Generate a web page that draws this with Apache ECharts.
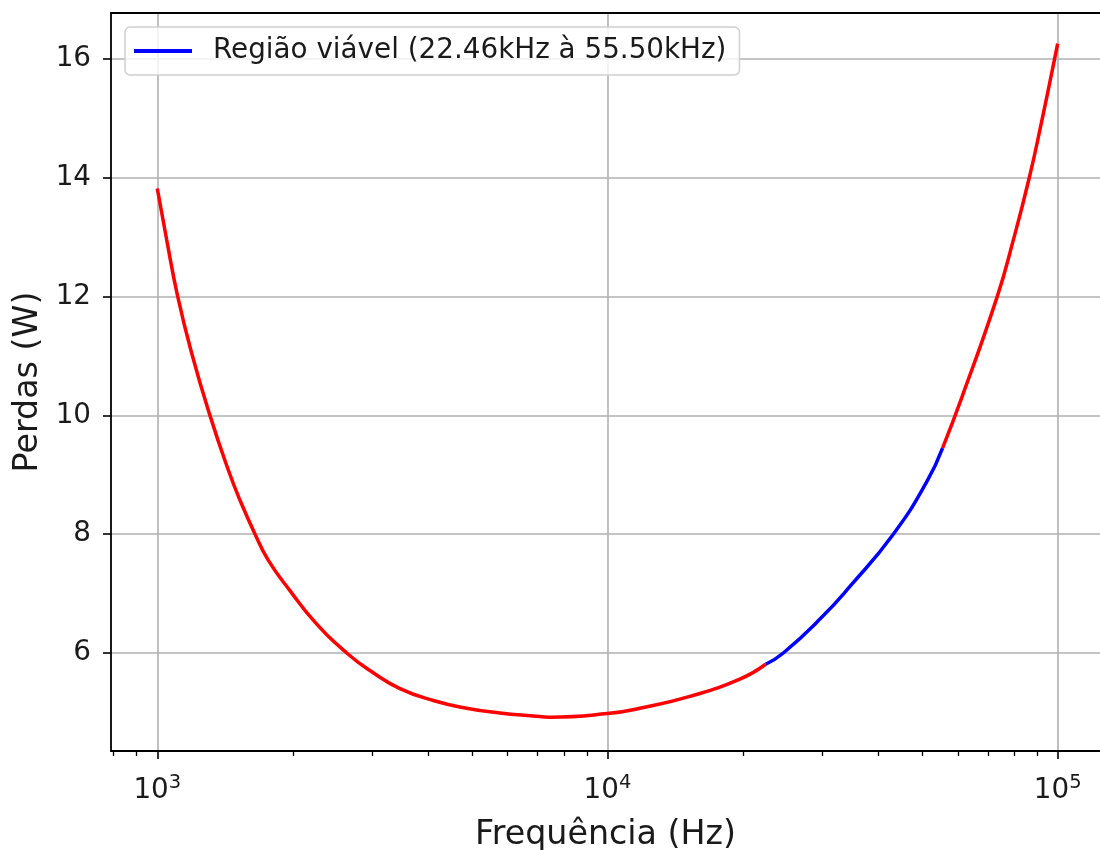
<!DOCTYPE html>
<html><head><meta charset="utf-8">
<script src="https://cdn.jsdelivr.net/npm/echarts@6/dist/echarts.min.js"></script>
<style>html,body{margin:0;padding:0;background:#fff;overflow:hidden}#c{width:1100px;height:850px}</style>
</head><body><div id="c"></div>
<script>
// ---- data ----
const freqHz = [1000, 1049, 1108, 1192, 1309, 1438, 1527, 1649, 1765, 1971, 2240, 2635, 3000, 3459, 4102, 4862, 5768, 6839, 7447, 10000, 11800, 15240, 19680, 22460, 24580, 29910, 34560, 43140, 51170, 55500, 61230, 73400, 79690, 86480, 92150, 98130, 100000];
const lossW  = [13.82, 12.96, 12.03, 11.05, 10.00, 9.08, 8.57, 8.00, 7.56, 7.05, 6.52, 6.00, 5.68, 5.40, 5.20, 5.07, 4.99, 4.94, 4.92, 4.98, 5.07, 5.27, 5.56, 5.81, 6.00, 6.60, 7.12, 8.00, 8.88, 9.45, 10.30, 12.00, 12.95, 14.00, 14.95, 15.95, 16.26];
const viableStartHz = 22460;
const viableEndHz = 55500;
const legendLabel = 'Região viável (22.46kHz à 55.50kHz)';
const xMajorTicks = [1000, 10000, 100000];
const xMinorTicks = [800, 900, 2000, 3000, 4000, 5000, 6000, 7000, 8000, 9000, 20000, 30000, 40000, 50000, 60000, 70000, 80000, 90000];
const yTicks = [6, 8, 10, 12, 14, 16];
const xLimits = [789.2, 124170];
const yLimits = [4.35, 16.774];
const xTitle = 'Frequência (Hz)';
const yTitle = 'Perdas (W)';

// ---- build series ----
const redData = freqHz.map((f, i) => (f > viableStartHz && f < viableEndHz) ? [f, '-'] : [f, lossW[i]]);
const blueData = [];
freqHz.forEach((f, i) => { if (f >= viableStartHz && f <= viableEndHz) blueData.push([f, lossW[i]]); });

const FONT = 'DejaVu Sans';
const TXT = '#1a1a1a';
const SPINE = { show: true, onZero: false, lineStyle: { color: '#000', width: 1.8 } };
const chart = echarts.init(document.getElementById('c'), null, {renderer: 'canvas'});
chart.setOption({
  animation: false,
  backgroundColor: '#fff',
  grid: { left: 111, top: 13, right: 0, bottom: 99, show: false, containLabel: false, outerBoundsMode: 'none' },
  legend: {
    left: 125, top: 27,
    data: [legendLabel],
    icon: 'rect', itemWidth: 58, itemHeight: 4,
    padding: [10, 13, 10, 9],
    backgroundColor: 'rgba(255,255,255,0.8)',
    borderColor: '#d0d0d0', borderWidth: 1.5, borderRadius: 5,
    textStyle: { fontFamily: FONT, fontSize: 27.8, color: TXT, padding: [0, 0, 0, 16] }
  },
  xAxis: [{
    type: 'log', logBase: 10, min: xLimits[0], max: xLimits[1], position: 'bottom',
    axisLine: SPINE,
    axisTick: { show: true, inside: false, length: 8, customValues: xMajorTicks, lineStyle: { color: '#000', width: 1.6 } },
    axisLabel: {
      customValues: xMajorTicks, margin: 22,
      formatter: v => '{b|10}{s|' + Math.round(Math.log10(v)) + '}',
      rich: {
        b: { fontFamily: FONT, fontSize: 27.8, color: TXT, lineHeight: 32, verticalAlign: 'bottom' },
        s: { fontFamily: FONT, fontSize: 19.5, color: TXT, lineHeight: 20, verticalAlign: 'top' }
      }
    },
    splitLine: { show: true, lineStyle: { color: '#b0b0b0', width: 1.6 } },
    name: xTitle, nameLocation: 'middle', nameGap: 68,
    nameTextStyle: { fontFamily: FONT, fontSize: 33.3, color: TXT }
  }, {
    type: 'log', logBase: 10, min: xLimits[0], max: xLimits[1], position: 'bottom',
    axisLine: { show: false },
    axisTick: { show: true, inside: false, length: 5, customValues: xMinorTicks, lineStyle: { color: '#000', width: 1.3 } },
    axisLabel: { show: false },
    splitLine: { show: false }
  }, {
    type: 'log', logBase: 10, min: xLimits[0], max: xLimits[1], position: 'top',
    axisLine: SPINE,
    axisTick: { show: false }, axisLabel: { show: false }, splitLine: { show: false }
  }],
  yAxis: {
    type: 'value', min: yLimits[0], max: yLimits[1], position: 'left',
    axisLine: SPINE,
    axisTick: { show: true, inside: false, length: 8, customValues: yTicks, lineStyle: { color: '#000', width: 1.6 } },
    axisLabel: { customValues: yTicks, margin: 20, fontFamily: FONT, fontSize: 27.8, color: TXT },
    splitLine: { show: true, lineStyle: { color: '#b0b0b0', width: 1.6 } },
    name: yTitle, nameLocation: 'middle', nameGap: 64,
    nameTextStyle: { fontFamily: FONT, fontSize: 33.3, color: TXT }
  },
  series: [
    { name: 'red', type: 'line', xAxisIndex: 0, data: redData, showSymbol: false, smooth: 0.5,
      lineStyle: { color: '#ff0000', width: 3.5 }, itemStyle: { color: '#ff0000' }, z: 3 },
    { name: legendLabel, type: 'line', xAxisIndex: 0, data: blueData, showSymbol: false, smooth: 0.5,
      lineStyle: { color: '#0000ff', width: 3.5 }, itemStyle: { color: '#0000ff' }, z: 4 }
  ]
});
</script></body></html>
